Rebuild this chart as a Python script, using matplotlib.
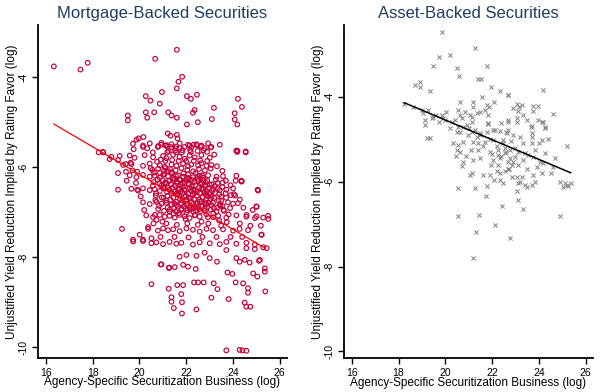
import numpy as np
import matplotlib
matplotlib.use("Agg")
import matplotlib.pyplot as plt

plt.rcParams['font.family'] = ['Liberation Sans', 'DejaVu Sans']

# ---- Mortgage-backed securities (log business, log yield reduction) ----
mbs_top = [
    (16.33, -3.76), (17.47, -3.83), (17.78, -3.68), (21.6, -3.39), (20.67, -3.59),
    (21.83, -3.99), (21.67, -4.1), (21.6, -4.25), (20.27, -4.42), (20.96, -4.33),
    (20.47, -4.52), (20.87, -4.59), (22.03, -4.42), (22.2, -4.48), (22.46, -4.39),
    (24.22, -4.48), (24.39, -4.66), (23.19, -4.68), (22.36, -4.73), (22.29, -4.79),
    (21.23, -4.78), (21.37, -4.85), (21.6, -4.9), (20.63, -4.78), (20.27, -4.78),
    (20.33, -4.9), (19.5, -4.85), (19.5, -4.96), (24.08, -4.8), (24.08, -4.94),
    (24.19, -5.05), (23.1, -4.93), (22.5, -5.0), (22.03, -5.05), (20.17, -5.33),
    (19.96, -5.36), (19.87, -5.39), (21.21, -5.25), (21.33, -5.3), (21.6, -5.28),
    (21.63, -5.36),
    (20.15, -5.55), (20.33, -5.58), (20.57, -5.67), (20.79, -5.55), (20.93, -5.5),
    (21.12, -5.52), (21.2, -5.55), (21.36, -5.55), (21.53, -5.58), (21.72, -5.57),
    (21.93, -5.55), (22.15, -5.52), (22.32, -5.5), (22.46, -5.51), (22.64, -5.55),
    (22.79, -5.58), (22.9, -5.66), (23.05, -5.56), (21.19, -5.67), (21.57, -5.67),
    (21.82, -5.67), (22.2, -5.66), (24.19, -5.66), (24.55, -5.67), (18.25, -5.67),
    (18.45, -5.67),
]

mbs_side = [
    (18.43, -5.66), (18.72, -5.82), (18.8, -5.77), (19.08, -5.84), (19.08, -6.13),
    (19.08, -6.5), (19.41, -5.93), (19.62, -5.9), (19.7, -6.07), (19.42, -6.1),
    (19.9, -6.1), (19.9, -6.5), (24.2, -5.64), (24.36, -6.3), (24.38, -6.31),
    (24.12, -6.3), (25.06, -6.5), (23.92, -6.62), (24.1, -6.63), (23.56, -6.34),
    (25.02, -6.88), (25.52, -7.15), (25.24, -7.5), (24.59, -7.06), (24.95, -7.13),
    (25.45, -7.8), (25.16, -8.06), (19.25, -7.37), (19.73, -7.65), (20.15, -7.64),
    (20.51, -7.69), (20.37, -7.33), (20.73, -7.17), (20.66, -7.06),
]

mbs_core = [
    (19.72, -5.48), (20.15, -5.52), (20.44, -5.47), (20.8, -5.53), (20.94, -5.46),
    (21.15, -5.51), (21.37, -5.49), (21.58, -5.54), (21.72, -5.47), (22.08, -5.5),
    (22.22, -5.56), (22.44, -5.49), (22.65, -5.52), (22.94, -5.47), (23.08, -5.55),
    (23.44, -5.5), (24.15, -5.63), (24.55, -5.65),
    (19.58, -5.74), (19.79, -5.79), (20.22, -5.73), (20.58, -5.78), (21.01, -5.75),
    (21.15, -5.8), (21.44, -5.72), (21.72, -5.77), (21.94, -5.81), (22.15, -5.74),
    (22.37, -5.78), (22.65, -5.73), (23.01, -5.79),
    (19.65, -5.93), (20.15, -5.97), (20.44, -5.92), (20.87, -5.96), (21.08, -5.99),
    (21.37, -5.94), (21.58, -5.97), (21.87, -5.92), (22.08, -5.98), (22.22, -5.94),
    (22.51, -5.96), (22.65, -5.91), (22.87, -5.97), (23.08, -5.95),
    (20.55, -6.06), (20.8, -6.03), (21.05, -6.08), (21.3, -6.04), (21.55, -6.07),
    (21.8, -6.02), (22.05, -6.06), (22.3, -6.09), (22.55, -6.04), (22.8, -6.07),
    (23.05, -6.03),
    (19.58, -6.18), (19.87, -6.22), (20.15, -6.17), (20.44, -6.21), (20.65, -6.19),
    (20.87, -6.23), (21.01, -6.17), (21.22, -6.2), (21.44, -6.24), (21.65, -6.18),
    (21.87, -6.21), (22.08, -6.16), (22.29, -6.22), (22.58, -6.19), (22.72, -6.23),
    (22.94, -6.18), (23.3, -6.21), (23.58, -6.2), (24.15, -6.19), (24.37, -6.32),
    (20.6, -6.33), (20.85, -6.37), (21.1, -6.34), (21.35, -6.38), (21.6, -6.32),
    (21.85, -6.36), (22.1, -6.39), (22.35, -6.33), (22.6, -6.37), (22.85, -6.34),
    (23.1, -6.38), (23.35, -6.35),
    (19.65, -6.48), (19.94, -6.52), (20.15, -6.47), (20.44, -6.51), (20.65, -6.49),
    (20.87, -6.53), (21.08, -6.47), (21.29, -6.5), (21.51, -6.54), (21.72, -6.48),
    (21.94, -6.51), (22.15, -6.46), (22.37, -6.52), (22.65, -6.49), (22.87, -6.53),
    (23.15, -6.48), (23.44, -6.51), (23.72, -6.5), (24.01, -6.47), (25.08, -6.52),
    (20.7, -6.63), (20.95, -6.67), (21.2, -6.64), (21.45, -6.68), (21.7, -6.62),
    (21.95, -6.66), (22.2, -6.69), (22.45, -6.63), (22.7, -6.67), (22.95, -6.64),
    (23.2, -6.68), (23.5, -6.65),
    (20.15, -6.78), (20.44, -6.82), (20.72, -6.77), (20.94, -6.81), (21.15, -6.79),
    (21.37, -6.83), (21.58, -6.77), (21.79, -6.8), (22.01, -6.84), (22.22, -6.78),
    (22.44, -6.81), (22.65, -6.76), (22.87, -6.82), (23.15, -6.79), (23.44, -6.83),
    (23.79, -6.78), (24.01, -6.81), (24.22, -6.8), (25.01, -6.87),
    (20.8, -6.93), (21.05, -6.97), (21.3, -6.94), (21.55, -6.98), (21.8, -6.92),
    (22.05, -6.96), (22.3, -6.99), (22.55, -6.93), (22.8, -6.97), (23.05, -6.94),
    (23.3, -6.98), (23.6, -6.95),
    (20.29, -7.07), (20.58, -7.11), (20.87, -7.06), (21.08, -7.1), (21.29, -7.08),
    (21.51, -7.12), (21.72, -7.06), (21.94, -7.09), (22.15, -7.13), (22.37, -7.07),
    (22.58, -7.1), (22.87, -7.05), (23.15, -7.11), (23.37, -7.08), (23.72, -7.12),
    (24.15, -7.07), (24.58, -7.1), (25.01, -7.09), (25.3, -7.12), (25.51, -7.08),
    (20.01, -7.5), (20.37, -7.37), (20.79, -7.41), (21.01, -7.36), (21.22, -7.4),
    (21.44, -7.38), (21.72, -7.42), (22.01, -7.36), (22.29, -7.39), (22.58, -7.43),
    (22.87, -7.37), (23.15, -7.4), (23.58, -7.38), (24.01, -7.41), (24.29, -7.37),
    (24.65, -7.4), (25.22, -7.5),
    (19.72, -7.61), (20.15, -7.61), (20.51, -7.58), (20.72, -7.67), (21.01, -7.71),
    (21.29, -7.66), (21.58, -7.7), (21.79, -7.68), (22.29, -7.72), (22.58, -7.67),
    (23.01, -7.69), (23.44, -7.71), (23.72, -7.66), (24.15, -7.7), (24.58, -7.68),
    (24.94, -7.72), (25.3, -7.78),
    (21.5, -6.26), (21.75, -6.29), (22.0, -6.27), (22.25, -6.28), (22.5, -6.26),
    (22.75, -6.29), (21.6, -6.58), (21.85, -6.57), (22.1, -6.59), (22.35, -6.58),
    (22.6, -6.57), (22.85, -6.59), (21.65, -6.88), (21.9, -6.87), (22.15, -6.89),
    (22.4, -6.88), (22.65, -6.87), (22.9, -6.89), (21.4, -6.13), (22.4, -6.13),
]

mbs_dense = [
    (20.62, -6.12), (20.78, -6.27), (20.93, -6.41), (21.07, -6.15), (21.18, -6.55),
    (21.26, -6.31), (21.33, -6.72), (21.41, -6.46), (21.48, -6.91), (21.56, -6.19),
    (21.63, -6.61), (21.69, -7.02), (21.77, -6.38), (21.83, -6.74), (21.91, -6.49),
    (21.97, -7.15), (22.04, -6.23), (22.11, -6.68), (22.17, -6.94), (22.24, -6.42),
    (22.31, -6.81), (22.38, -7.06), (22.46, -6.55), (22.52, -6.31), (22.59, -6.76),
    (22.66, -7.21), (22.73, -6.47), (22.79, -6.92), (22.86, -6.63), (22.93, -7.11),
    (23.01, -6.39), (23.08, -6.84), (23.16, -7.03), (23.24, -6.57), (23.33, -6.9),
    (23.41, -7.18), (23.5, -6.74), (23.62, -6.97), (23.74, -7.22), (23.88, -6.91),
    (20.71, -6.58), (20.84, -6.86), (20.98, -7.21), (21.12, -6.02), (21.21, -6.9),
    (21.35, -6.12), (21.46, -7.03), (21.59, -6.84), (21.71, -6.27), (21.88, -6.14),
    (22.01, -7.01), (22.13, -6.37), (22.27, -6.62), (22.42, -6.97), (22.56, -6.72),
    (22.69, -6.18), (22.83, -6.41), (22.97, -6.79), (23.12, -6.53), (23.27, -6.28),
    (23.42, -6.6), (23.55, -6.44), (23.69, -6.58), (23.82, -7.05),
    (21.03, -6.68), (21.17, -6.36), (21.29, -6.99), (21.52, -6.41), (21.66, -6.5),
    (21.79, -6.95), (21.93, -6.33), (22.07, -6.81), (22.21, -6.52), (22.34, -6.71),
    (22.48, -6.21), (22.62, -6.98), (22.77, -6.56), (22.91, -6.3), (23.04, -6.71),
    (23.19, -6.91), (23.36, -6.47), (23.47, -6.86),
    (20.48, -6.02), (20.57, -6.41), (20.68, -6.73), (20.75, -5.88), (20.91, -5.83),
    (21.0, -6.29), (21.11, -5.86), (21.24, -5.64), (21.4, -5.84), (21.53, -5.63),
    (21.68, -5.86), (21.84, -5.62), (22.0, -5.86), (22.17, -5.62), (22.33, -5.86),
    (22.49, -5.64), (22.6, -5.85), (22.74, -5.62), (22.9, -5.86), (23.2, -5.72),
    (23.32, -5.98), (23.55, -6.08), (23.7, -6.3), (23.9, -6.4), (24.05, -6.6),
    (24.3, -6.72), (24.45, -6.9), (24.3, -7.25), (24.75, -7.3), (24.85, -6.95),
    (25.2, -7.3), (24.4, -7.55), (23.9, -7.55), (23.3, -7.55), (22.7, -7.55),
    (22.1, -7.56), (21.5, -7.55), (20.9, -7.55), (21.15, -7.25), (21.6, -7.28),
    (22.05, -7.25), (22.5, -7.28), (22.95, -7.25), (23.5, -7.3), (20.6, -7.25),
    (20.2, -6.95), (20.05, -6.65), (19.85, -6.35), (19.75, -5.6), (19.45, -6.3),
    (19.3, -5.95), (19.15, -5.75),
    (20.88, -6.13), (21.02, -6.46), (21.14, -6.74), (21.25, -6.09), (21.37, -6.57),
    (21.5, -6.81), (21.61, -6.36), (21.74, -6.71), (21.86, -6.44), (21.99, -6.63),
    (22.12, -6.26), (22.26, -6.92), (22.39, -6.4), (22.53, -6.86), (22.67, -6.35),
    (22.81, -6.78), (22.95, -6.46), (23.09, -6.66), (23.23, -6.42), (23.39, -6.74),
    (23.56, -6.86), (23.71, -6.68), (21.45, -6.28), (22.0, -6.74), (22.55, -6.45),
    (23.0, -6.58), (21.2, -6.45), (21.75, -6.55), (22.3, -6.5), (22.85, -6.72),
]

mbs_low = [
    (20.94, -8.16), (21.27, -8.23), (21.51, -8.22), (21.87, -8.17), (22.08, -8.21),
    (22.41, -8.26), (21.72, -7.99), (22.01, -7.95), (22.44, -7.97), (22.79, -7.9),
    (23.01, -8.02), (23.32, -8.1), (23.72, -7.84), (23.77, -8.34), (23.98, -8.37),
    (24.15, -8.02), (24.29, -8.1), (24.51, -8.06), (24.72, -8.12), (24.58, -7.8),
    (24.94, -7.82), (25.12, -8.08), (24.87, -8.36), (25.05, -8.43), (25.37, -8.32),
    (25.37, -8.25), (20.91, -8.16), (21.26, -8.24),
    (20.51, -8.6), (21.25, -8.7), (21.62, -8.62), (21.87, -8.62), (22.34, -8.56),
    (22.51, -8.56), (22.75, -8.56), (23.18, -8.58), (23.34, -8.71), (23.08, -8.9),
    (23.82, -8.93), (24.12, -8.56), (24.44, -8.58), (24.65, -8.69), (24.65, -8.79),
    (25.39, -8.76), (21.37, -8.89), (21.37, -8.99), (21.82, -9.0), (21.79, -8.82),
    (21.47, -9.13), (21.82, -9.25), (22.44, -9.16), (24.51, -9.01), (24.58, -9.1),
    (24.75, -9.1),
    (23.72, -10.07), (24.29, -10.06), (24.41, -10.07), (24.58, -10.08),
]

mbs_fit_x = [16.33, 25.38]
mbs_fit_y = [-5.04, -7.8]

# ---- Asset-backed securities ----
abs_upper = [
    (19.85, -2.47), (21.28, -2.86), (19.75, -3.06), (20.2, -3.02), (19.46, -3.27),
    (20.49, -3.32), (20.59, -3.51), (21.77, -3.27), (21.41, -3.57), (21.53, -3.58),
    (21.95, -3.76), (22.34, -3.87), (22.67, -3.96), (22.7, -3.95), (24.16, -3.84),
    (18.71, -3.72), (18.92, -3.66), (18.92, -3.76), (19.35, -3.87), (21.55, -4.0),
    (20.63, -4.12), (21.2, -4.12), (21.2, -4.23), (21.77, -4.2), (21.88, -4.23),
    (22.1, -4.12), (21.7, -4.31), (21.48, -4.35), (20.84, -4.35), (20.56, -4.31),
    (20.63, -4.43), (21.06, -4.43), (21.13, -4.47), (21.34, -4.39), (21.84, -4.42),
    (23.05, -4.16), (23.16, -4.23), (23.26, -4.2), (22.91, -4.27), (23.12, -4.34),
    (23.34, -4.43), (23.05, -4.51), (23.73, -4.21), (23.98, -4.21), (23.73, -4.34),
    (23.98, -4.55), (24.16, -4.59), (23.66, -4.71), (24.26, -4.73), (23.69, -4.86),
    (22.69, -4.55), (22.38, -4.61), (21.81, -4.61),
    (18.24, -4.16), (18.63, -4.23), (18.99, -4.31), (19.27, -4.31), (19.06, -4.39),
    (19.49, -4.47), (19.13, -4.55), (19.13, -4.67), (19.42, -4.51), (19.85, -4.43),
    (19.99, -4.55), (20.27, -4.59), (20.2, -4.74), (20.56, -4.71), (20.91, -4.67),
    (21.13, -4.6), (21.27, -4.78), (20.49, -4.82), (21.13, -4.82), (21.77, -4.82),
    (22.05, -4.78), (22.34, -4.81), (22.59, -4.84), (22.69, -4.78),
    (19.92, -4.51), (20.77, -4.71), (21.03, -4.74), (21.48, -4.86),
]

abs_lower = [
    (19.2, -4.98), (19.35, -4.96), (20.63, -4.82), (21.48, -4.9), (22.12, -4.78),
    (22.62, -4.86), (21.84, -4.63), (22.69, -4.59), (23.05, -4.59), (23.69, -4.7),
    (24.26, -4.72), (24.12, -4.59),
    (20.34, -5.1), (20.56, -5.14), (20.77, -5.06), (21.2, -5.06), (21.41, -5.1),
    (21.7, -5.06), (22.05, -5.02), (22.48, -5.02), (23.19, -4.94), (23.69, -4.94),
    (24.12, -5.02), (23.69, -5.1), (25.22, -5.16),
    (20.49, -5.25), (20.63, -5.29), (20.46, -5.4), (20.74, -5.53), (20.71, -5.63),
    (21.41, -5.25), (21.91, -5.29), (22.27, -5.25), (22.27, -5.37), (22.55, -5.21),
    (22.55, -5.33), (22.77, -5.25), (22.98, -5.41), (23.12, -5.29), (23.41, -5.33),
    (23.55, -5.37), (23.76, -5.41), (24.26, -5.33), (24.05, -5.53), (24.19, -5.57),
    (24.69, -5.45), (24.62, -5.65), (22.05, -5.49), (22.34, -5.45), (22.69, -5.53),
    (22.91, -5.53), (23.12, -5.61), (22.69, -5.69), (22.71, -5.7), (22.27, -5.61),
    (22.19, -5.76), (22.34, -5.8), (21.91, -5.84), (21.63, -5.84), (21.13, -5.8),
    (21.06, -5.84), (22.34, -5.96), (22.48, -6.04), (22.84, -5.9), (23.05, -5.9),
    (23.19, -6.0), (23.12, -6.04), (23.26, -5.9), (23.76, -5.84), (24.12, -5.8),
    (23.83, -6.0), (23.69, -6.08), (23.48, -6.12), (23.41, -6.08), (24.9, -6.0),
    (25.04, -6.12), (25.19, -6.08), (25.37, -6.04),
    (20.54, -6.16), (21.27, -6.16), (21.77, -6.1), (23.05, -6.21), (21.74, -6.34),
    (23.09, -6.43), (22.42, -6.57), (23.31, -6.65), (20.56, -6.82), (21.44, -6.78),
    (22.12, -7.02), (24.9, -6.8), (21.3, -7.19), (22.77, -7.33), (21.17, -7.79),
]

abs_extra = [
    (19.6, -4.42), (19.75, -4.6), (20.05, -4.35), (20.4, -4.55), (20.7, -4.5),
    (20.95, -4.9), (21.1, -5.25), (21.35, -4.95), (21.6, -5.15), (21.9, -5.0),
    (22.0, -5.35), (22.2, -5.15), (22.4, -5.4), (22.45, -5.1), (22.8, -5.05),
    (22.85, -5.6), (23.0, -5.2), (23.3, -5.5), (23.5, -5.7), (23.3, -5.1),
    (23.85, -5.25), (24.0, -5.1), (24.4, -5.0), (24.5, -5.8), (23.9, -5.65),
    (22.55, -5.75), (22.1, -5.95), (21.5, -5.45), (21.2, -5.5), (20.9, -5.4),
    (22.9, -4.9), (23.5, -4.55), (24.6, -4.4), (25.1, -6.02), (25.25, -6.1),
    (22.6, -5.3), (22.75, -5.45), (21.95, -5.6),
]

abs_fit_x = [18.24, 25.36]
abs_fit_y = [-4.14, -5.79]

x_ticks = [16, 18, 20, 22, 24, 26]
y_ticks = [-10, -8, -6, -4]

title_color = '#1e3d63'
mbs_color = '#c4003a'
abs_color = '#808080'
ylab = 'Unjustified Yield Reduction Implied by Rating Favor (log)'
xlab = 'Agency-Specific Securitization Business (log)'


def style_axis(ax, title, xlim, ylim):
    ax.set_xlim(*xlim)
    ax.set_ylim(*ylim)
    ax.set_xticks(x_ticks)
    ax.set_yticks(y_ticks)
    ax.set_yticklabels([str(t) for t in y_ticks], rotation=90, va='center')
    ax.tick_params(axis='both', direction='out', length=4, width=1, labelsize=7.5, pad=3)
    for side in ['top', 'right']:
        ax.spines[side].set_visible(False)
    for side in ['left', 'bottom']:
        ax.spines[side].set_linewidth(1.3)
    ax.set_title(title, fontsize=12, color=title_color, pad=5)
    ax.set_ylabel(ylab, fontsize=8.5)
    ax.set_xlabel(xlab, fontsize=8.5)
    ax.yaxis.set_label_coords(-0.08, 0.5)
    ax.xaxis.set_label_coords(0.5, -0.055)


fig = plt.figure(figsize=(6.02, 3.92), dpi=100)

ax1 = fig.add_axes([0.0631, 0.0867, 0.4136, 0.8495])
mbs = np.array(mbs_top + mbs_side + mbs_core + mbs_dense + mbs_low)
ax1.scatter(mbs[:, 0], mbs[:, 1], s=11, facecolors='none', edgecolors=mbs_color, linewidths=0.85)
ax1.plot(mbs_fit_x, mbs_fit_y, color='#ff0000', lw=0.9)
style_axis(ax1, 'Mortgage-Backed Securities', (15.65, 26.32), (-10.24, -2.84))

ax2 = fig.add_axes([0.5719, 0.086, 0.4126, 0.8502])
abs_pts = np.array(abs_upper + abs_lower + abs_extra)
ax2.scatter(abs_pts[:, 0], abs_pts[:, 1], s=9, marker='x', color=abs_color, linewidths=0.7)
ax2.plot(abs_fit_x, abs_fit_y, color='black', lw=1.1)
style_axis(ax2, 'Asset-Backed Securities', (15.68, 26.3), (-10.16, -2.31))

fig.savefig('out.png', dpi=100)
